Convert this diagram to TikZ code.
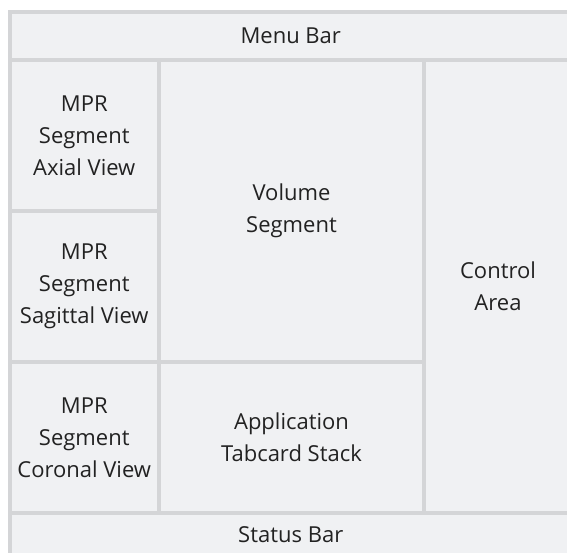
\documentclass[tikz,border=0pt]{standalone}
\usepackage{fontspec}
\setmainfont{Open Sans}
\usepackage{tikz}
\definecolor{panefill}{RGB}{240,241,243}
\definecolor{paneline}{RGB}{212,213,215}
\definecolor{panetext}{RGB}{34,34,34}

\begin{document}
\begin{tikzpicture}[x=1pt, y=-1pt,
        pane/.style={rectangle, draw=paneline, fill=panefill, line width=4pt, inner sep=0pt, anchor=north west, align=center, text=panetext, font=\fontsize{22}{32}\selectfont}]
    \clip (0,0) rectangle (567,553);
    \fill[white] (0,0) rectangle (567,553);

    % top and bottom bars
    \node [pane, minimum width=562.5pt, minimum height=47.5pt] (menubar) at (7.5,10.5) {Menu Bar};
    \node [pane, minimum width=562.5pt, minimum height=44pt] (statusbar) at (7.5,511) {Status Bar};

    % left column
    \node [pane, minimum width=149.5pt, minimum height=151pt] (axial) at (7.5,58) {MPR\\Segment\\Axial View};
    \node [pane, minimum width=149.5pt, minimum height=151pt] (sagittal) at (7.5,209) {MPR\\Segment\\Sagittal View};
    \node [pane, minimum width=149.5pt, minimum height=151pt] (coronal) at (7.5,360) {MPR\\Segment\\Coronal View};

    % middle column
    \node [pane, minimum width=265pt, minimum height=302pt] (volume) at (157,58) {Volume\\Segment};
    \node [pane, minimum width=265pt, minimum height=151pt] (tabcard) at (157,360) {Application\\Tabcard Stack};

    % right column
    \node [pane, minimum width=148pt, minimum height=453pt] (control) at (422,58) {Control\\Area};
\end{tikzpicture}
\end{document}
